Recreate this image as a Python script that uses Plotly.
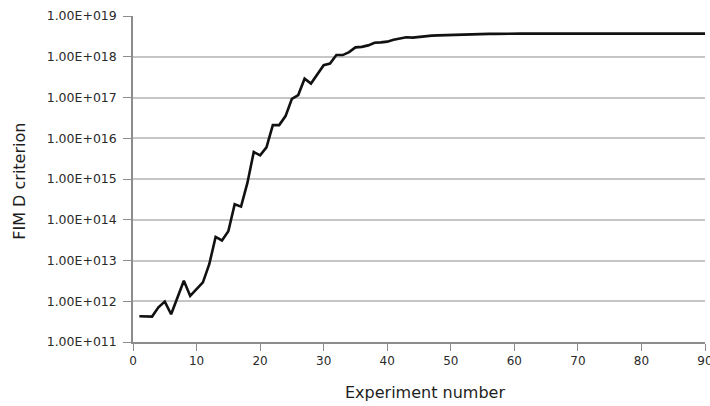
import plotly.graph_objects as go

# Experiment index and the FIM D-optimality criterion after each experiment
experiment = list(range(1, 91))
fim_d = [
    4.3e11, 4.3e11, 4.2e11, 7.1e11, 9.8e11, 4.8e11, 1.2e12, 3.2e12, 1.35e12, 2.0e12,
    2.9e12, 8.1e12, 3.8e13, 3.1e13, 5.2e13, 2.4e14, 2.1e14, 8.0e14, 4.6e15, 3.8e15,
    6.0e15, 2.1e16, 2.1e16, 3.5e16, 9.3e16, 1.15e17, 2.9e17, 2.2e17, 3.8e17, 6.2e17,
    6.8e17, 1.1e18, 1.1e18, 1.3e18, 1.7e18, 1.75e18, 1.9e18, 2.2e18, 2.25e18, 2.35e18,
    2.6e18, 2.8e18, 3.0e18, 2.95e18, 3.1e18, 3.2e18, 3.3e18, 3.35e18, 3.4e18, 3.45e18,
    3.5e18, 3.55e18, 3.55e18, 3.6e18, 3.6e18, 3.65e18, 3.65e18, 3.7e18, 3.7e18, 3.7e18,
    3.7e18, 3.7e18, 3.7e18, 3.7e18, 3.7e18, 3.7e18, 3.7e18, 3.7e18, 3.7e18, 3.7e18,
    3.7e18, 3.7e18, 3.7e18, 3.7e18, 3.7e18, 3.7e18, 3.7e18, 3.7e18, 3.7e18, 3.7e18,
    3.7e18, 3.7e18, 3.7e18, 3.7e18, 3.7e18, 3.7e18, 3.7e18, 3.7e18, 3.7e18, 3.7e18,
]

y_tick_vals = [1e11, 1e12, 1e13, 1e14, 1e15, 1e16, 1e17, 1e18, 1e19]
y_tick_text = ["1.00E+011", "1.00E+012", "1.00E+013", "1.00E+014", "1.00E+015",
               "1.00E+016", "1.00E+017", "1.00E+018", "1.00E+019"]
x_tick_vals = [0, 10, 20, 30, 40, 50, 60, 70, 80, 90]

FONT = "DejaVu Sans"
AXIS_GREY = "#8c8c8c"
GRID_GREY = "#c6c6c6"
TEXT = "#2a2a2a"

fig = go.Figure()
fig.add_trace(go.Scatter(
    x=experiment, y=fim_d, mode="lines",
    line=dict(color="#111111", width=2.6),
    showlegend=False, hoverinfo="skip",
))

fig.update_layout(
    width=710, height=406,
    margin=dict(l=133, r=5, t=16, b=64),
    paper_bgcolor="white", plot_bgcolor="white",
    font=dict(family=FONT, size=12, color=TEXT),
    xaxis=dict(
        range=[0, 90], tickvals=x_tick_vals,
        showgrid=False, zeroline=False, automargin=False,
        showline=True, linecolor=AXIS_GREY, linewidth=1.5,
        ticks="outside", ticklen=7, tickwidth=1.2, tickcolor=AXIS_GREY,
        ticklabeloverflow="allow",
        tickfont=dict(family=FONT, size=12, color=TEXT),
    ),
    yaxis=dict(
        type="log", range=[11, 19],
        tickvals=y_tick_vals, ticktext=y_tick_text,
        showgrid=True, gridcolor=GRID_GREY, gridwidth=1.6,
        zeroline=False, automargin=False,
        showline=True, linecolor=AXIS_GREY, linewidth=1.5,
        ticks="outside", ticklen=8, tickwidth=1.2, tickcolor=AXIS_GREY,
        ticklabelstandoff=4,
        tickfont=dict(family=FONT, size=12.5, color=TEXT),
    ),
    annotations=[
        dict(text="Experiment number", xref="paper", yref="paper",
             x=0.51, y=-0.155, xanchor="center", yanchor="middle",
             showarrow=False, font=dict(family=FONT, size=16, color="#1e1e1e")),
        dict(text="FIM D criterion", xref="paper", yref="paper",
             x=-0.198, y=0.494, xanchor="center", yanchor="middle", textangle=-90,
             showarrow=False, font=dict(family=FONT, size=16, color="#1e1e1e")),
    ],
)

fig.write_html("out.html")
